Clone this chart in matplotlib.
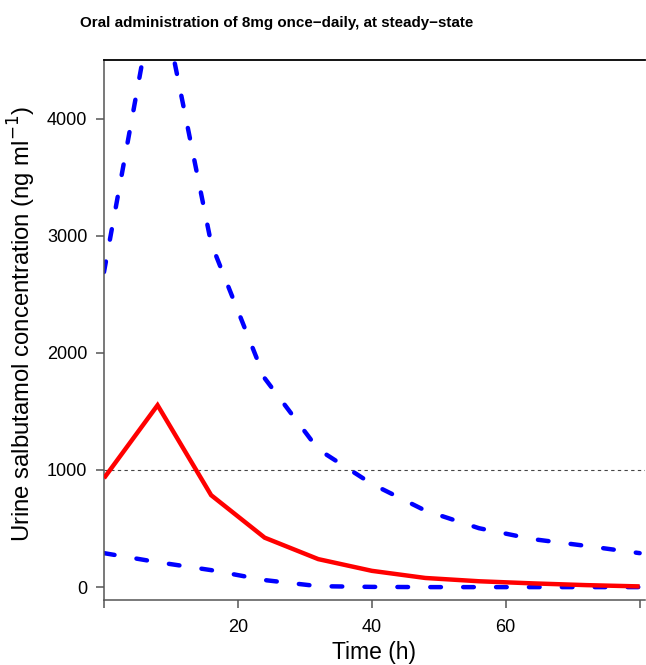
import matplotlib
matplotlib.use("Agg")
import matplotlib.pyplot as plt

plt.rcParams['font.family'] = ['Liberation Sans', 'DejaVu Sans']

time_h = [0, 8, 16, 24, 32, 40, 48, 56, 64, 72, 80]
median_conc = [930, 1553, 785, 422, 239, 139, 78, 50, 32, 17, 6]
upper_conc = [2690, 5200, 2935, 1783, 1176, 881, 653, 503, 410, 352, 290]
lower_conc = [290, 213, 145, 60, 8, 2, 0, 0, 0, 0, 0]
threshold = 1000
x_ticks = [0, 20, 40, 60, 80]
x_ticklabels = ['', '20', '40', '60', '']
y_ticks = [0, 1000, 2000, 3000, 4000]

W, H = 646, 665
fig = plt.figure(figsize=(W / 100, H / 100), dpi=100)
ax = fig.add_axes([104 / W, 1 - 600 / H, (645 - 104) / W, (600 - 60) / H])

ax.axhline(threshold, color='#444444', lw=0.8, dashes=(3, 3), zorder=1)
ax.plot(time_h, upper_conc, color='#0000ff', lw=3.2, dashes=(2.4, 5.0),
        dash_capstyle='round', zorder=2, clip_on=True)
ax.plot(time_h, lower_conc, color='#0000ff', lw=3.2, dashes=(2.4, 5.0),
        dash_capstyle='round', zorder=2)
ax.plot(time_h, median_conc, color='#ff0000', lw=3.2, solid_capstyle='butt',
        solid_joinstyle='miter', zorder=3)

ax.set_xlim(0, 80.8)
ax.set_ylim(-110, 4500)
ax.set_xticks(x_ticks)
ax.set_xticklabels(x_ticklabels)
ax.set_yticks(y_ticks)
ax.set_yticklabels([str(v) for v in y_ticks])

ax.spines['right'].set_visible(False)
ax.spines['top'].set_color('black')
ax.spines['top'].set_linewidth(1.3)
for s in ['left', 'bottom']:
    ax.spines[s].set_color('#555555')
    ax.spines[s].set_linewidth(1.1)
ax.tick_params(axis='both', direction='out', length=6, width=1.1, color='#555555',
               labelsize=13, labelcolor='black')
ax.tick_params(axis='y', pad=6)
ax.tick_params(axis='x', pad=8)

fig.text(277 / W, 1 - 23 / H, 'Oral administration of 8mg once\u2212daily, at steady\u2212state',
         ha='center', va='center', fontsize=10.9, fontweight='bold')
fig.text(22 / W, 1 - 324 / H, 'Urine salbutamol concentration (ng ml$^{\u22121}$)',
         rotation=90, ha='center', va='center', fontsize=17.2)
fig.text(374 / W, 1 - 653 / H, 'Time (h)', ha='center', va='center', fontsize=16.5)

fig.savefig('out.png', dpi=100)
